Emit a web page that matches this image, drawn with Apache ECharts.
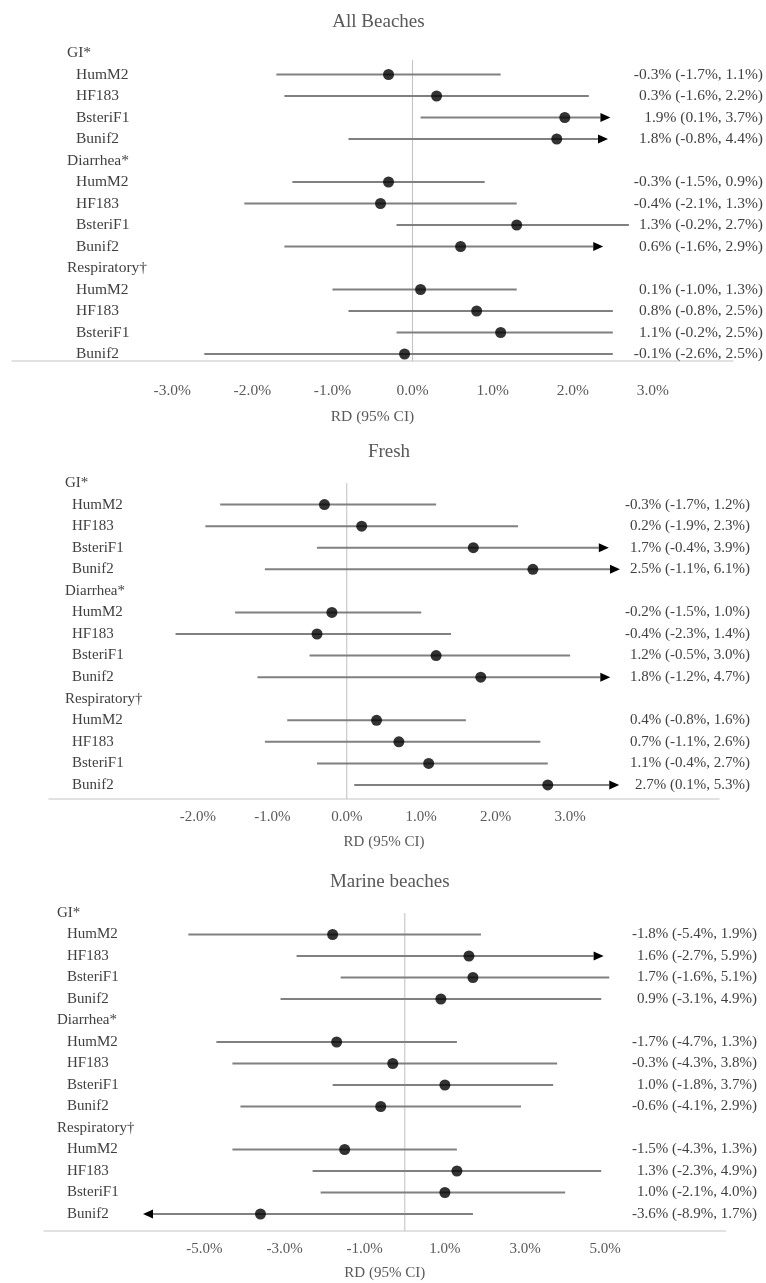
<!DOCTYPE html>
<html>
<head>
<meta charset="utf-8">
<script src="https://cdn.jsdelivr.net/npm/echarts@6/dist/echarts.min.js"></script>
<style>
  html, body { margin: 0; padding: 0; background: #fff; }
  #chart { width: 766px; height: 1283px; }
</style>
</head>
<body>
<div id="chart"></div>
<script>
// outcome groups and indicators, top to bottom
var groups = ['GI*', 'Diarrhea*', 'Respiratory†'];
var markers = ['HumM2', 'HF183', 'BsteriF1', 'Bunif2'];

// All beaches: risk difference % and 95% CI
var allEst = [-0.3, 0.3, 1.9, 1.8, -0.3, -0.4, 1.3, 0.6, 0.1, 0.8, 1.1, -0.1];
var allLo = [-1.7, -1.6, 0.1, -0.8, -1.5, -2.1, -0.2, -1.6, -1.0, -0.8, -0.2, -2.6];
var allHi = [1.1, 2.2, 3.7, 4.4, 0.9, 1.3, 2.7, 2.9, 1.3, 2.5, 2.5, 2.5];
// where the arrow of a cut-off interval stops (null = whole interval drawn)
var allArrow = [null, null, 2.47, 2.44, null, null, null, 2.38, null, null, null, null];

// Fresh
var freshEst = [-0.3, 0.2, 1.7, 2.5, -0.2, -0.4, 1.2, 1.8, 0.4, 0.7, 1.1, 2.7];
var freshLo = [-1.7, -1.9, -0.4, -1.1, -1.5, -2.3, -0.5, -1.2, -0.8, -1.1, -0.4, 0.1];
var freshHi = [1.2, 2.3, 3.9, 6.1, 1.0, 1.4, 3.0, 4.7, 1.6, 2.6, 2.7, 5.3];
var freshArrow = [null, null, 3.52, 3.67, null, null, null, 3.54, null, null, null, 3.66];

// Marine beaches
var marineEst = [-1.8, 1.6, 1.7, 0.9, -1.7, -0.3, 1.0, -0.6, -1.5, 1.3, 1.0, -3.6];
var marineLo = [-5.4, -2.7, -1.6, -3.1, -4.7, -4.3, -1.8, -4.1, -4.3, -2.3, -2.1, -8.9];
var marineHi = [1.9, 5.9, 5.1, 4.9, 1.3, 3.8, 3.7, 2.9, 1.3, 4.9, 4.0, 1.7];
var marineArrow = [null, 4.96, null, null, null, null, null, null, null, null, null, -6.53];

// x tick labels
var allTicks = [-3, -2, -1, 0, 1, 2, 3];
var freshTicks = [-2, -1, 0, 1, 2, 3];
var marineTicks = [-5, -3, -1, 1, 3, 5];

var FONT = '"Liberation Serif", "Times New Roman", serif';

// row labels: group heading then its markers
var rowLabels = [];
var rowIdx = []; // row of each estimate
groups.forEach(function (g) {
  rowLabels.push(g);
  markers.forEach(function (m) {
    rowIdx.push(rowLabels.length);
    rowLabels.push(m);
  });
});

var panels = [
  {title: 'All Beaches', est: allEst, lo: allLo, hi: allHi, arrow: allArrow, ticks: allTicks,
   min: -5, max: 4, left: 12, right: 31, row0: 53, step: 21.5, axisY: 361, zeroTop: 60,
   titleY: 19, groupX: 67, subPad: 9, ciRight: 765, tickY: 391, nameY: 417, fs: 15.5},
  {title: 'Fresh', est: freshEst, lo: freshLo, hi: freshHi, arrow: freshArrow, ticks: freshTicks,
   min: -4, max: 5, left: 49, right: 47, row0: 483, step: 21.57, axisY: 799, zeroTop: 483,
   titleY: 449, groupX: 65, subPad: 7, ciRight: 750, tickY: 818, nameY: 843, fs: 15},
  {title: 'Marine beaches', est: marineEst, lo: marineLo, hi: marineHi, arrow: marineArrow, ticks: marineTicks,
   min: -9, max: 8, left: 44, right: 40.5, row0: 913, step: 21.5, axisY: 1231, zeroTop: 913,
   titleY: 879, groupX: 57, subPad: 10, ciRight: 757, tickY: 1250, nameY: 1274, fs: 15}
];

function fmt(v) { return v.toFixed(1) + '%'; }

var option = {
  animation: false,
  backgroundColor: '#fff',
  textStyle: {fontFamily: FONT},
  title: [], grid: [], xAxis: [], yAxis: [], series: []
};

panels.forEach(function (p, k) {
  var top = p.row0 - p.step / 2;
  var yMax = (p.axisY - p.row0) / p.step;
  var gridRight = 766 - p.right;

  option.title.push({
    text: p.title,
    left: (p.left + gridRight) / 2,
    textAlign: 'center',
    top: p.titleY - 11,
    textStyle: {fontFamily: FONT, fontSize: 19, fontWeight: 'normal', color: '#595959'}
  });

  option.grid.push({left: p.left, right: p.right, top: top, height: p.axisY - top});

  option.xAxis.push({
    type: 'value', gridIndex: k, min: p.min, max: p.max,
    axisLine: {onZero: false, lineStyle: {color: '#d9d9d9', width: 1.5}},
    axisTick: {show: false},
    splitLine: {show: false},
    axisLabel: {
      customValues: p.ticks,
      formatter: fmt,
      margin: p.tickY - p.axisY - 8,
      color: '#595959', fontFamily: FONT, fontSize: p.fs
    },
    name: 'RD (95% CI)', nameLocation: 'middle', nameGap: p.nameY - p.axisY - 8,
    nameTextStyle: {color: '#595959', fontFamily: FONT, fontSize: p.fs}
  });

  var allRows = rowLabels.map(function (s, i) { return i; });
  // left: row labels
  option.yAxis.push({
    type: 'value', gridIndex: k, min: -0.5, max: yMax, inverse: true, position: 'left',
    axisLine: {show: false, onZero: false}, axisTick: {show: false}, splitLine: {show: false},
    axisLabel: {
      inside: true, margin: p.groupX - p.left, customValues: allRows,
      formatter: function (v) {
        var s = rowLabels[Math.round(v)];
        return groups.indexOf(s) >= 0 ? '{g|' + s + '}' : '{s|' + s + '}';
      },
      rich: {
        g: {fontFamily: FONT, fontSize: p.fs, color: '#404040'},
        s: {fontFamily: FONT, fontSize: p.fs, color: '#404040', padding: [0, 0, 0, p.subPad]}
      }
    }
  });
  // right: estimate (95% CI) text
  option.yAxis.push({
    type: 'value', gridIndex: k, min: -0.5, max: yMax, inverse: true, position: 'right',
    axisLine: {show: false, onZero: false}, axisTick: {show: false}, splitLine: {show: false},
    axisLabel: {
      align: 'right', margin: p.ciRight - gridRight, customValues: rowIdx,
      color: '#404040', fontFamily: FONT, fontSize: p.fs,
      formatter: function (v) {
        var i = rowIdx.indexOf(Math.round(v));
        return fmt(p.est[i]) + ' (' + fmt(p.lo[i]) + ', ' + fmt(p.hi[i]) + ')';
      }
    }
  });

  var yi = k * 2;
  // zero reference line
  option.series.push({
    type: 'line', xAxisIndex: k, yAxisIndex: yi, silent: true, symbol: 'none', z: 1,
    lineStyle: {color: '#bfbfbf', width: 1},
    data: [[0, (p.zeroTop - p.row0) / p.step], [0, yMax]]
  });
  // confidence intervals, with arrows where cut off
  option.series.push({
    type: 'custom', xAxisIndex: k, yAxisIndex: yi, silent: true, z: 2,
    encode: {x: [0, 2], y: 1},
    data: rowIdx.map(function (r, i) { return [p.lo[i], r, p.hi[i]]; }),
    renderItem: function (params, api) {
      var i = params.dataIndex;
      var row = rowIdx[i], tip = p.arrow[i];
      var a = p.lo[i], b = p.hi[i], dir = 0;
      if (tip != null) {
        if (tip > p.est[i]) { b = tip; dir = 1; } else { a = tip; dir = -1; }
      }
      var pa = api.coord([a, row]), pb = api.coord([b, row]);
      var head = 10, half = 4.5;
      var x1 = pa[0], x2 = pb[0];
      if (dir === 1) x2 -= head;
      if (dir === -1) x1 += head;
      var kids = [{
        type: 'line', shape: {x1: x1, y1: pa[1], x2: x2, y2: pb[1]},
        style: {stroke: '#808080', lineWidth: 2}
      }];
      if (dir === 1) {
        kids.push({type: 'polygon', shape: {points: [[pb[0], pb[1]], [pb[0] - head, pb[1] - half], [pb[0] - head, pb[1] + half]]}, style: {fill: '#000'}});
      } else if (dir === -1) {
        kids.push({type: 'polygon', shape: {points: [[pa[0], pa[1]], [pa[0] + head, pa[1] - half], [pa[0] + head, pa[1] + half]]}, style: {fill: '#000'}});
      }
      return {type: 'group', children: kids};
    }
  });
  // point estimates
  option.series.push({
    type: 'scatter', xAxisIndex: k, yAxisIndex: yi, silent: true, z: 3,
    symbol: 'circle', symbolSize: 11, itemStyle: {color: '#000'},
    data: rowIdx.map(function (r, i) { return [p.est[i], r]; })
  });
});

var chart = echarts.init(document.getElementById('chart'));
chart.setOption(option);
</script>
</body>
</html>
